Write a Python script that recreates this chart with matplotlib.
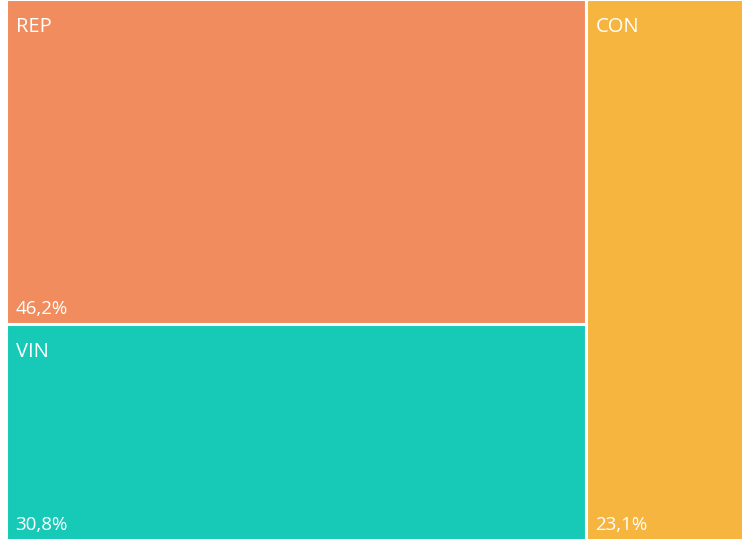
import matplotlib.pyplot as plt
from matplotlib.patches import Rectangle

labels = ["REP", "VIN", "CON"]
values = [46.2, 30.8, 23.1]
pct_labels = ["46,2%", "30,8%", "23,1%"]
colors = ["#F08C5E", "#17CAB8", "#F6B53F"]

plt.rcParams["font.family"] = ["Open Sans", "DejaVu Sans"]

W, H = 742, 539
fig = plt.figure(figsize=(W / 100, H / 100), dpi=100)
# treemap area is a bit wider than the visible picture (cropped at the right)
ax = fig.add_axes([5.5 / W, -1.5 / H, 754 / W, 542 / H])
ax.set_xlim(0, 1)
ax.set_ylim(0, 1)
ax.axis("off")

total = sum(values)
left_w = (values[0] + values[1]) / total
rep_h = values[0] / (values[0] + values[1])

# (x, y, w, h) in axes fraction, y from bottom
boxes = [
    (0, 1 - rep_h, left_w, rep_h),
    (0, 0, left_w, 1 - rep_h),
    (left_w, 0, 1 - left_w, 1),
]

for (x, y, w, h), lab, pct, col in zip(boxes, labels, pct_labels, colors):
    ax.add_patch(Rectangle((x, y), w, h, facecolor=col, edgecolor="white", linewidth=2.2))
    ax.annotate(lab, (x, y + h), xytext=(10, -18), textcoords="offset pixels",
                ha="left", va="top", color="white", fontsize=14.5)
    ax.annotate(pct, (x, y), xytext=(10, 6), textcoords="offset pixels",
                ha="left", va="bottom", color="white", fontsize=13.5)

fig.savefig("out.png", dpi=100)
